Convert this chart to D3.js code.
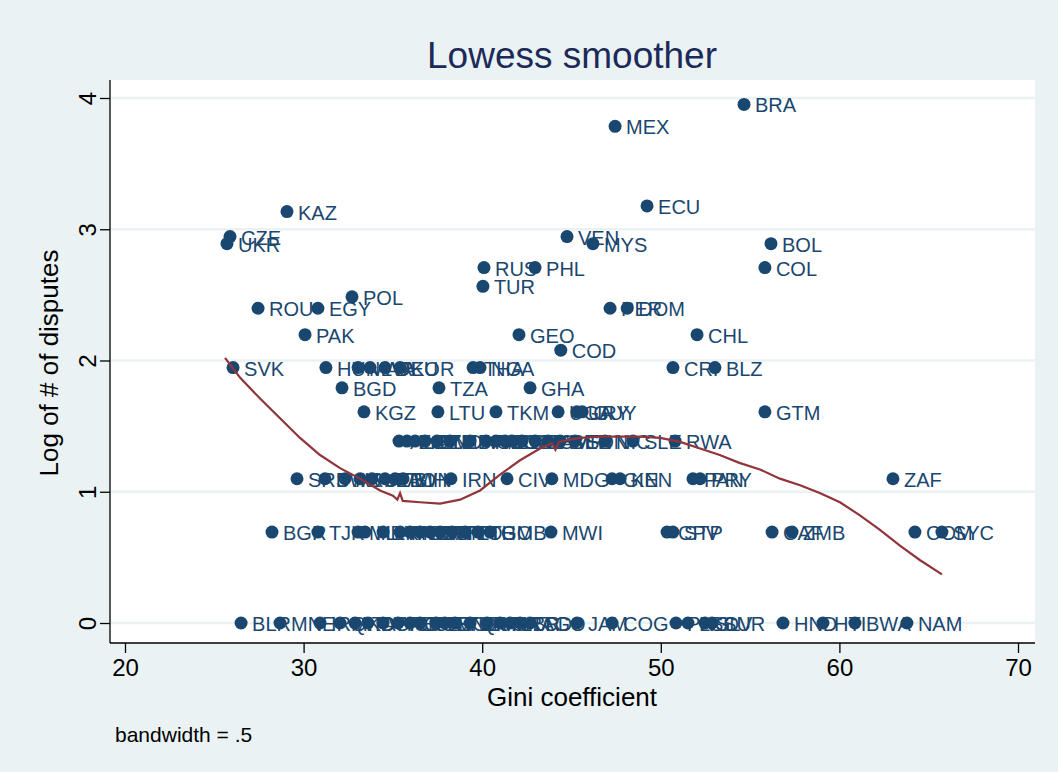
<!DOCTYPE html>
<html>
<head>
<meta charset="utf-8">
<script src="https://cdn.jsdelivr.net/npm/d3@7"></script>
<style>
  html, body { margin: 0; padding: 0; background: #eaf2f3; }
  svg { display: block; font-family: "Liberation Sans", Arial, sans-serif; }
</style>
</head>
<body>
<svg id="chart" width="1058" height="772"></svg>
<script>
// Country codes, Gini coefficient and log of the number of disputes (grouped by dispute count)
const codes = [
  // upper points
  "BRA","MEX","ECU","KAZ","CZE","UKR","VEN","MYS","BOL","RUS","PHL","COL","TUR","POL",
  "ROU","EGY","PER","DOM","PAK","GEO","CHL","COD",
  // 7 disputes
  "SVK","HUN","MAR","LVA","DEU","KOR","THA","NGA","CRI","BLZ",
  // 6 disputes
  "BGD","TZA","GHA",
  // 5 disputes
  "KGZ","LTU","TKM","UGA","URY","GUY","GTM",
  // 4 disputes
  "ALB","EST","YEM","AZE","IND","MDA","ARG","SEN","MUS","ZWE","GAB","DZA","KHM","CMR","BEN","SDN","NIC","SLE","RWA",
  // 3 disputes
  "SRB","SWZ","ARM","VUT","UZB","LAO","TWN","BIH","IRN","CIV","MDG","GIN","KEN","PAN","PRY","ZAF",
  // 2 disputes
  "BGR","TJK","MLI","HRV","LKA","MNG","NER","BFA","SYR","IDN","TTO","ETH","TGO","GMB","MWI","CPV","STP","CAF","ZMB","COM","SYC",
  // 1 dispute
  "BLR","MNE","IRQ","MKD","ITA","CYP","GRC","ISR","ESP","JOR","LBN","MOZ","TUN","QAT","USA","MRT","LBR","TCD","AGO","JAM","COG","PNG","LSO","SLV","SUR","HND","HTI","BWA","NAM"
];
const gini = [
  54.66, 47.44, 49.23, 29.07, 25.88, 25.71, 44.75, 46.20, 56.17, 40.10, 42.96, 55.83, 40.04, 32.71,
  27.45, 30.80, 47.16, 48.12, 30.08, 42.06, 52.03, 44.40,
  26.05, 31.25, 33.05, 33.72, 34.56, 35.40, 39.49, 39.88, 50.68, 53.03,
  32.15, 37.58, 42.68,
  33.38, 37.52, 40.77, 44.25, 45.30, 45.60, 55.83,
  35.34, 35.79, 36.24, 36.80, 37.47, 38.20, 39.32, 40.21, 40.77, 41.28, 41.67, 42.23, 42.96, 43.68, 44.36, 45.20, 46.88, 48.44, 50.80,
  29.63, 31.20, 32.32, 33.16, 33.83, 34.56, 35.12, 35.57, 38.25, 41.39, 43.90, 47.27, 47.72, 51.80, 52.20, 63.00,
  28.23, 30.80, 33.05, 33.44, 34.45, 35.40, 35.96, 36.52, 37.08, 37.64, 38.31, 39.04, 39.76, 40.44, 43.85, 50.35, 50.68, 56.23, 57.35, 64.23, 65.74,
  26.50, 28.68, 30.92, 32.04, 32.88, 33.60, 34.45, 35.29, 35.96, 36.52, 37.41, 37.90, 38.48, 39.32, 40.27, 41.00, 41.56, 42.12, 42.68, 45.31, 47.27, 50.85, 51.52, 52.47, 52.87, 56.84, 59.08, 60.87, 63.78
];
const logDisputes = [
  3.951, 3.784, 3.178, 3.135, 2.944, 2.890, 2.944, 2.890, 2.890, 2.708, 2.708, 2.708, 2.565, 2.485,
  2.398, 2.398, 2.398, 2.398, 2.197, 2.197, 2.197, 2.079,
  1.946, 1.946, 1.946, 1.946, 1.946, 1.946, 1.946, 1.946, 1.946, 1.946,
  1.792, 1.792, 1.792,
  1.609, 1.609, 1.609, 1.609, 1.609, 1.609, 1.609,
  1.386, 1.386, 1.386, 1.386, 1.386, 1.386, 1.386, 1.386, 1.386, 1.386, 1.386, 1.386, 1.386, 1.386, 1.386, 1.386, 1.386, 1.386, 1.386,
  1.099, 1.099, 1.099, 1.099, 1.099, 1.099, 1.099, 1.099, 1.099, 1.099, 1.099, 1.099, 1.099, 1.099, 1.099, 1.099,
  0.693, 0.693, 0.693, 0.693, 0.693, 0.693, 0.693, 0.693, 0.693, 0.693, 0.693, 0.693, 0.693, 0.693, 0.693, 0.693, 0.693, 0.693, 0.693, 0.693, 0.693,
  0, 0, 0, 0, 0, 0, 0, 0, 0, 0, 0, 0, 0, 0, 0, 0, 0, 0, 0, 0, 0, 0, 0, 0, 0, 0, 0, 0, 0
];

// Lowess fit (bandwidth .5), sampled along the Gini range
const smoothX = [25.6, 26.44, 27.56, 28.68, 29.8, 30.92, 32.04, 33.16, 34.28, 35.0, 35.25, 35.4, 35.55, 36.52, 37.64, 38.76, 39.88, 41.0, 42.12, 43.24, 43.9, 44.1, 44.3, 44.6, 45.48, 46.6, 47.72, 48.84, 49.96, 51.08, 52.2, 53.3, 54.4, 55.55, 56.67, 57.8, 58.9, 60.03, 61.15, 62.27, 63.39, 64.5, 65.74];
const smoothY = [2.02, 1.87, 1.71, 1.56, 1.41, 1.28, 1.18, 1.10, 1.01, 0.97, 0.94, 0.99, 0.93, 0.92, 0.91, 0.94, 1.01, 1.13, 1.24, 1.33, 1.37, 1.32, 1.38, 1.39, 1.41, 1.42, 1.42, 1.42, 1.41, 1.38, 1.33, 1.28, 1.22, 1.17, 1.10, 1.05, 0.99, 0.92, 0.82, 0.71, 0.59, 0.48, 0.37];

const xTicks = [20, 30, 40, 50, 60, 70];
const yTicks = [0, 1, 2, 3, 4];

const navy = "#1a476f";
const maroon = "#90353b";

const svg = d3.select("#chart");
const W = 1058, H = 772;
const plot = { left: 110, right: 1035, top: 80, bottom: 643 };

const x = d3.scaleLinear().domain([20, 70]).range([125, 1018]);
const y = d3.scaleLinear().domain([0, 4]).range([623, 98]);

// graph region
svg.append("rect").attr("width", W).attr("height", H).attr("fill", "#eaf2f3");
// plot region
svg.append("rect")
  .attr("x", plot.left).attr("y", plot.top)
  .attr("width", plot.right - plot.left).attr("height", plot.bottom - plot.top)
  .attr("fill", "#ffffff");

// horizontal grid lines
svg.append("g").selectAll("line").data(yTicks).join("line")
  .attr("x1", plot.left).attr("x2", plot.right)
  .attr("y1", d => y(d)).attr("y2", d => y(d))
  .attr("stroke", "#eaf2f3").attr("stroke-width", 2.5);

// y axis
const yAxis = svg.append("g")
  .attr("transform", `translate(${plot.left},0)`)
  .call(d3.axisLeft(y).tickValues(yTicks).tickSize(10).tickPadding(8).tickFormat(d3.format("d")));
yAxis.select(".domain").attr("d", `M0,${plot.top}V${plot.bottom}`).attr("stroke", "#000").attr("stroke-width", 1.3);
yAxis.selectAll(".tick line").attr("stroke", "#000").attr("stroke-width", 1.3);
yAxis.selectAll(".tick text")
  .attr("font-size", 24).attr("fill", "#000")
  .attr("x", null).attr("dy", null)
  .attr("text-anchor", "middle")
  .attr("transform", "translate(-14,0) rotate(-90)");

// x axis
const xAxis = svg.append("g")
  .attr("transform", `translate(0,${plot.bottom})`)
  .call(d3.axisBottom(x).tickValues(xTicks).tickSize(10).tickPadding(6).tickFormat(d3.format("d")));
xAxis.select(".domain").attr("d", `M${plot.left},0H${plot.right}`).attr("stroke", "#000").attr("stroke-width", 1.3);
xAxis.selectAll(".tick line").attr("stroke", "#000").attr("stroke-width", 1.3);
xAxis.selectAll(".tick text").attr("font-size", 24).attr("fill", "#000");

// markers and labels
const pts = codes.map((c, i) => ({ code: c, gx: gini[i], gy: logDisputes[i] }));
svg.append("g").selectAll("circle").data(pts).join("circle")
  .attr("cx", d => x(d.gx)).attr("cy", d => y(d.gy)).attr("r", 6.5)
  .attr("fill", navy);
svg.append("g").selectAll("text").data(pts).join("text")
  .attr("x", d => x(d.gx) + 11).attr("y", d => y(d.gy) + 8)
  .attr("font-size", 20).attr("fill", navy)
  .text(d => d.code);

// lowess line
const line = d3.line().x(d => x(d[0])).y(d => y(d[1]));
svg.append("path")
  .datum(smoothX.map((v, i) => [v, smoothY[i]]))
  .attr("d", line).attr("fill", "none")
  .attr("stroke", maroon).attr("stroke-width", 2.2);

// titles
svg.append("text").attr("x", 572).attr("y", 68).attr("text-anchor", "middle")
  .attr("font-size", 37).attr("fill", "#1c2a59").text("Lowess smoother");
svg.append("text").attr("x", 572).attr("y", 706).attr("text-anchor", "middle")
  .attr("font-size", 26).attr("fill", "#000").text("Gini coefficient");
svg.append("text").attr("transform", "translate(58,363) rotate(-90)").attr("text-anchor", "middle")
  .attr("font-size", 26).attr("fill", "#000").text("Log of # of disputes");
svg.append("text").attr("x", 115).attr("y", 742)
  .attr("font-size", 21).attr("fill", "#000").text("bandwidth = .5");
</script>
</body>
</html>
